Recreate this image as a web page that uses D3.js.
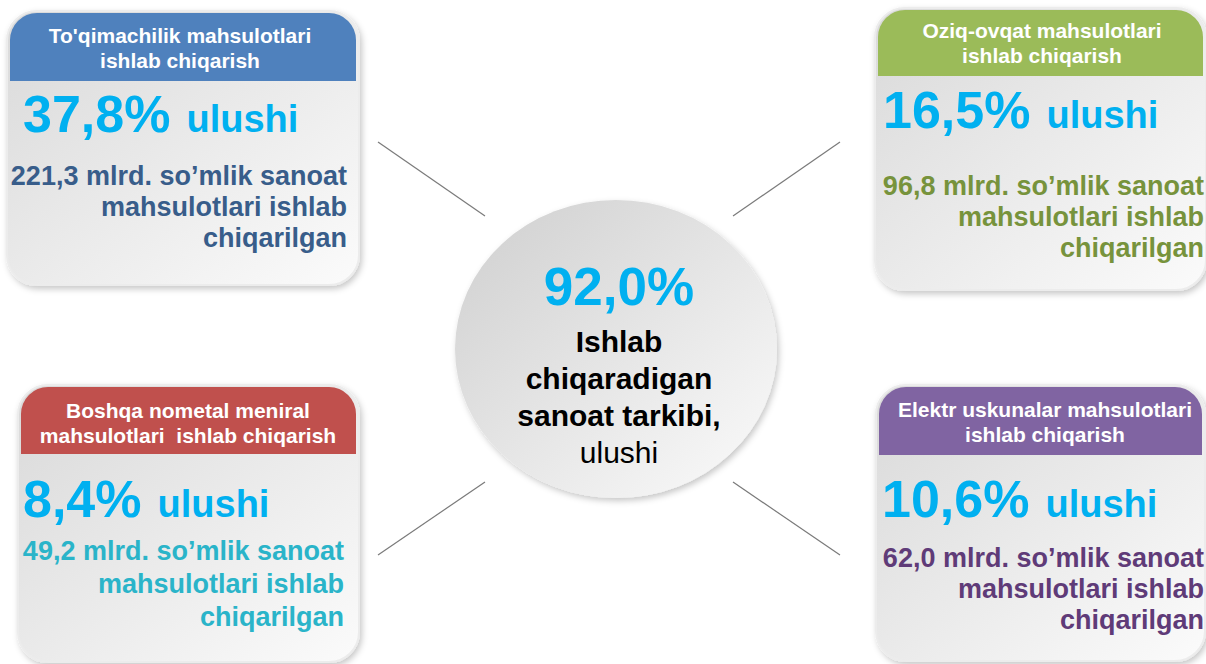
<!DOCTYPE html>
<html>
<head>
<meta charset="utf-8">
<script src="https://cdn.jsdelivr.net/npm/d3@7"></script>
<style>
    html, body { margin: 0; padding: 0; background: #fff; }
    .canvas { width: 1206px; height: 664px; overflow: hidden; }
    text { font-family: Arial, "Liberation Sans", sans-serif; }
</style>
</head>
<body>
<div class="canvas"></div>
<script>
// Chart data
const categories = [
    "To'qimachilik mahsulotlari|ishlab chiqarish",
    "Oziq-ovqat mahsulotlari|ishlab chiqarish",
    "Boshqa nometal meniral|mahsulotlari  ishlab chiqarish",
    "Elektr uskunalar mahsulotlari|ishlab chiqarish"
];
const shares = [37.8, 16.5, 8.4, 10.6];
const amounts = [221.3, 96.8, 49.2, 62.0];
const totalShare = 92.0;
const totalLabel = ['Ishlab', 'chiqaradigan', 'sanoat tarkibi,'];
const shareWord = 'ulushi';
const amountTail = ['mlrd. so’mlik sanoat', 'mahsulotlari ishlab', 'chiqarilgan'];

const WIDTH = 1206;
const HEIGHT = 664;

const headerColors = ['#4f81bd', '#9bbb59', '#c0504d', '#8064a2'];
const bodyColors = ['#385d8a', '#77933c', '#2ab4c9', '#5f3b78'];
const SHARE_COLOR = '#00b0f0';

const uz = d3.formatLocale({ decimal: ',', thousands: ' ', grouping: [3], currency: ['', ''] });
const fmt = uz.format('.1f');

const data = categories.map((c, i) => ({
    title: c.split('|'),
    share: shares[i],
    amount: amounts[i],
    index: i
}));

// Card placement: one box per quadrant
const boxOf = d3.scaleOrdinal()
    .domain(categories)
    .range([
        { x: 7, y: 11, w: 352, h: 274, head: 68, right: 347, big: 132, body: [185, 216, 247], left: 23, hx: 180, hy: [43, 68] },
        { x: 875, y: 8, w: 331, h: 282, head: 66, right: 1204, big: 128, body: [195, 226, 257], left: 883, hx: 1042, hy: [38, 63] },
        { x: 18, y: 385, w: 341, h: 277, head: 67, right: 344, big: 517, body: [560, 593, 626], left: 23, hx: 188, hy: [418, 443] },
        { x: 876, y: 385, w: 329, h: 276, head: 68, right: 1204, big: 517, body: [567, 598, 629], left: 882, hx: 1045, hy: [417, 442] }
    ]);

const center = { x: 616, y: 349, rx: 161, ry: 149 };

const svg = d3.select('.canvas')
    .append('svg')
    .attr('width', WIDTH)
    .attr('height', HEIGHT);

const defs = svg.append('defs');

const shadow = defs.append('filter')
    .attr('id', 'shadow')
    .attr('x', '-10%').attr('y', '-10%')
    .attr('width', '125%').attr('height', '125%');
shadow.append('feDropShadow')
    .attr('dx', 2).attr('dy', 3)
    .attr('stdDeviation', 3)
    .attr('flood-color', '#000')
    .attr('flood-opacity', 0.22);

const cardGrad = defs.append('linearGradient')
    .attr('id', 'cardGrad')
    .attr('x1', '0%').attr('y1', '0%')
    .attr('x2', '100%').attr('y2', '100%');
cardGrad.append('stop').attr('offset', '0%').attr('stop-color', '#d9d9d9');
cardGrad.append('stop').attr('offset', '100%').attr('stop-color', '#fbfbfb');

const circleGrad = defs.append('linearGradient')
    .attr('id', 'circleGrad')
    .attr('x1', '10%').attr('y1', '10%')
    .attr('x2', '90%').attr('y2', '90%');
circleGrad.append('stop').attr('offset', '0%').attr('stop-color', '#d3d3d3');
circleGrad.append('stop').attr('offset', '100%').attr('stop-color', '#f7f7f7');

// Connector lines between the circle and the cards
const lineOuter = d3.scaleOrdinal()
    .domain(categories)
    .range([[378, 142], [840, 142], [378, 555], [840, 555]]);
const lineInner = d3.scaleOrdinal()
    .domain(categories)
    .range([[485, 216], [733, 216], [485, 482], [733, 482]]);

svg.append('g')
    .selectAll('line')
    .data(data)
    .join('line')
    .attr('x1', d => lineOuter(categories[d.index])[0])
    .attr('y1', d => lineOuter(categories[d.index])[1])
    .attr('x2', d => lineInner(categories[d.index])[0])
    .attr('y2', d => lineInner(categories[d.index])[1])
    .attr('stroke', '#7a7a7a')
    .attr('stroke-width', 1.2);

// Central bubble
const hub = svg.append('g');
hub.append('ellipse')
    .attr('cx', center.x)
    .attr('cy', center.y)
    .attr('rx', center.rx)
    .attr('ry', center.ry)
    .attr('fill', 'url(#circleGrad)')
    .attr('filter', 'url(#shadow)');

hub.append('text')
    .attr('x', 619)
    .attr('y', 305)
    .attr('text-anchor', 'middle')
    .attr('font-size', 53)
    .attr('font-weight', 'bold')
    .attr('fill', SHARE_COLOR)
    .text(fmt(totalShare) + '%');

hub.selectAll('text.lbl')
    .data(totalLabel.concat([shareWord]))
    .join('text')
    .attr('class', 'lbl')
    .attr('x', 619)
    .attr('y', (d, i) => 352 + i * 37)
    .attr('text-anchor', 'middle')
    .attr('font-size', 30)
    .attr('font-weight', (d, i) => i < totalLabel.length ? 'bold' : 'normal')
    .attr('fill', '#000')
    .text(d => d);

// Cards
const cards = svg.selectAll('g.card')
    .data(data)
    .join('g')
    .attr('class', 'card');

cards.each(function (d) {
    const g = d3.select(this);
    const b = boxOf(categories[d.index]);
    const r = 30;

    g.append('rect')
        .attr('x', b.x).attr('y', b.y)
        .attr('width', b.w).attr('height', b.h)
        .attr('rx', r)
        .attr('fill', 'url(#cardGrad)')
        .attr('stroke', '#ececec')
        .attr('stroke-width', 2)
        .attr('filter', 'url(#shadow)');

    // Header band with rounded top corners only
    const hx = b.x + 3, hy = b.y + 2, hw = b.w - 6, hh = b.head;
    const hr = r - 3;
    const p = d3.path();
    p.moveTo(hx, hy + hh);
    p.lineTo(hx, hy + hr);
    p.arcTo(hx, hy, hx + hr, hy, hr);
    p.lineTo(hx + hw - hr, hy);
    p.arcTo(hx + hw, hy, hx + hw, hy + hr, hr);
    p.lineTo(hx + hw, hy + hh);
    p.closePath();
    g.append('path')
        .attr('d', p.toString())
        .attr('fill', headerColors[d.index]);

    g.selectAll('text.head')
        .data(d.title)
        .join('text')
        .attr('class', 'head')
        .attr('x', b.hx)
        .attr('y', (t, i) => b.hy[i])
        .attr('text-anchor', 'middle')
        .attr('font-size', 21)
        .attr('font-weight', 'bold')
        .attr('fill', '#fff')
        .style('white-space', 'pre')
        .text(t => t);

    const big = g.append('text')
        .attr('x', b.left)
        .attr('y', b.big)
        .attr('font-weight', 'bold')
        .attr('fill', SHARE_COLOR);
    big.append('tspan')
        .attr('font-size', 52)
        .text(fmt(d.share) + '%');
    big.append('tspan')
        .attr('font-size', 38)
        .attr('dx', 16)
        .text(shareWord);

    const lines = [fmt(d.amount) + ' ' + amountTail[0], amountTail[1], amountTail[2]];
    g.selectAll('text.body')
        .data(lines)
        .join('text')
        .attr('class', 'body')
        .attr('x', b.right)
        .attr('y', (t, i) => b.body[i])
        .attr('text-anchor', 'end')
        .attr('font-size', 27)
        .attr('font-weight', 'bold')
        .attr('fill', bodyColors[d.index])
        .text(t => t);
});
</script>
</body>
</html>
